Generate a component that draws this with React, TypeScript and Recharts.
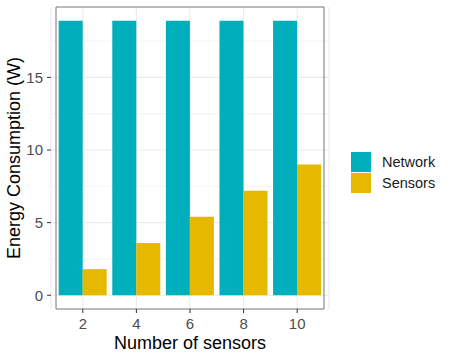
import { BarChart, Bar, XAxis, YAxis, CartesianGrid, ReferenceArea } from "recharts";

const sensorCounts = ["2", "4", "6", "8", "10"];
const networkPower = [18.9, 18.9, 18.9, 18.9, 18.9];
const sensorsPower = [1.8, 3.6, 5.4, 7.2, 9.0];
const yTicks = [0, 5, 10, 15];
const yMinorTicks = [2.5, 7.5, 12.5, 17.5];

const seriesNames = ["Network", "Sensors"];
const seriesColors = ["#00AFBB", "#E7B800"];

const data = sensorCounts.map((n, i) => ({
  n,
  Network: networkPower[i],
  Sensors: sensorsPower[i],
}));

const FONT = "'Liberation Sans', Arial, Helvetica, sans-serif";
const Y_DOMAIN = [-0.945, 19.845];

function LegendBox() {
  return (
    <div style={{ position: "absolute", left: 351, top: 151, fontFamily: FONT }}>
      {seriesNames.map((name, i) => (
        <div key={name} style={{ display: "flex", alignItems: "center", height: 21 }}>
          <div style={{ width: 20, height: 20, background: seriesColors[i] }} />
          <span style={{ marginLeft: 11, fontSize: 14.5, color: "#1a1a1a" }}>{name}</span>
        </div>
      ))}
    </div>
  );
}

export default function App() {
  return (
    <div style={{ position: "absolute", left: 0, top: 0, width: 450, height: 360, background: "#fff" }}>
      <BarChart
        width={450}
        height={360}
        data={data}
        margin={{ top: 7, right: 121, bottom: 0, left: 0 }}
        barCategoryGap="5%"
        barGap={0}
      >
        <CartesianGrid stroke="#ebebeb" strokeWidth={0.6} vertical={false} horizontalValues={yMinorTicks} />
        <CartesianGrid stroke="#ebebeb" strokeWidth={1.1} horizontalValues={yTicks} />
        <XAxis
          dataKey="n"
          type="category"
          padding={{ left: 5, right: 5 }}
          height={51}
          axisLine={false}
          tickSize={4}
          tickMargin={5}
          tickLine={{ stroke: "#333" }}
          tick={{ fill: "#4d4d4d", fontSize: 15, fontFamily: FONT }}
          label={() => (
            <text x={190} y={349} textAnchor="middle" fontSize={18} fontFamily={FONT} fill="#000">
              Number of sensors
            </text>
          )}
        />
        <YAxis
          type="number"
          domain={Y_DOMAIN}
          allowDataOverflow
          ticks={yTicks}
          width={51}
          axisLine={false}
          tickSize={4}
          tickMargin={4}
          tickLine={{ stroke: "#333" }}
          tick={{ fill: "#4d4d4d", fontSize: 15, fontFamily: FONT }}
          label={() => (
            <text
              x={20}
              y={158}
              transform="rotate(-90, 20, 158)"
              textAnchor="middle"
              fontSize={18}
              fontFamily={FONT}
              fill="#000"
            >
              Energy Consumption (W)
            </text>
          )}
        />
        <Bar dataKey="Network" fill={seriesColors[0]} isAnimationActive={false} />
        <Bar dataKey="Sensors" fill={seriesColors[1]} isAnimationActive={false} />
        <ReferenceArea
          y1={Y_DOMAIN[0]}
          y2={Y_DOMAIN[1]}
          fill="none"
          fillOpacity={0}
          stroke="#777"
          strokeWidth={1}
          ifOverflow="visible"
        />
      </BarChart>
      <LegendBox />
    </div>
  );
}
